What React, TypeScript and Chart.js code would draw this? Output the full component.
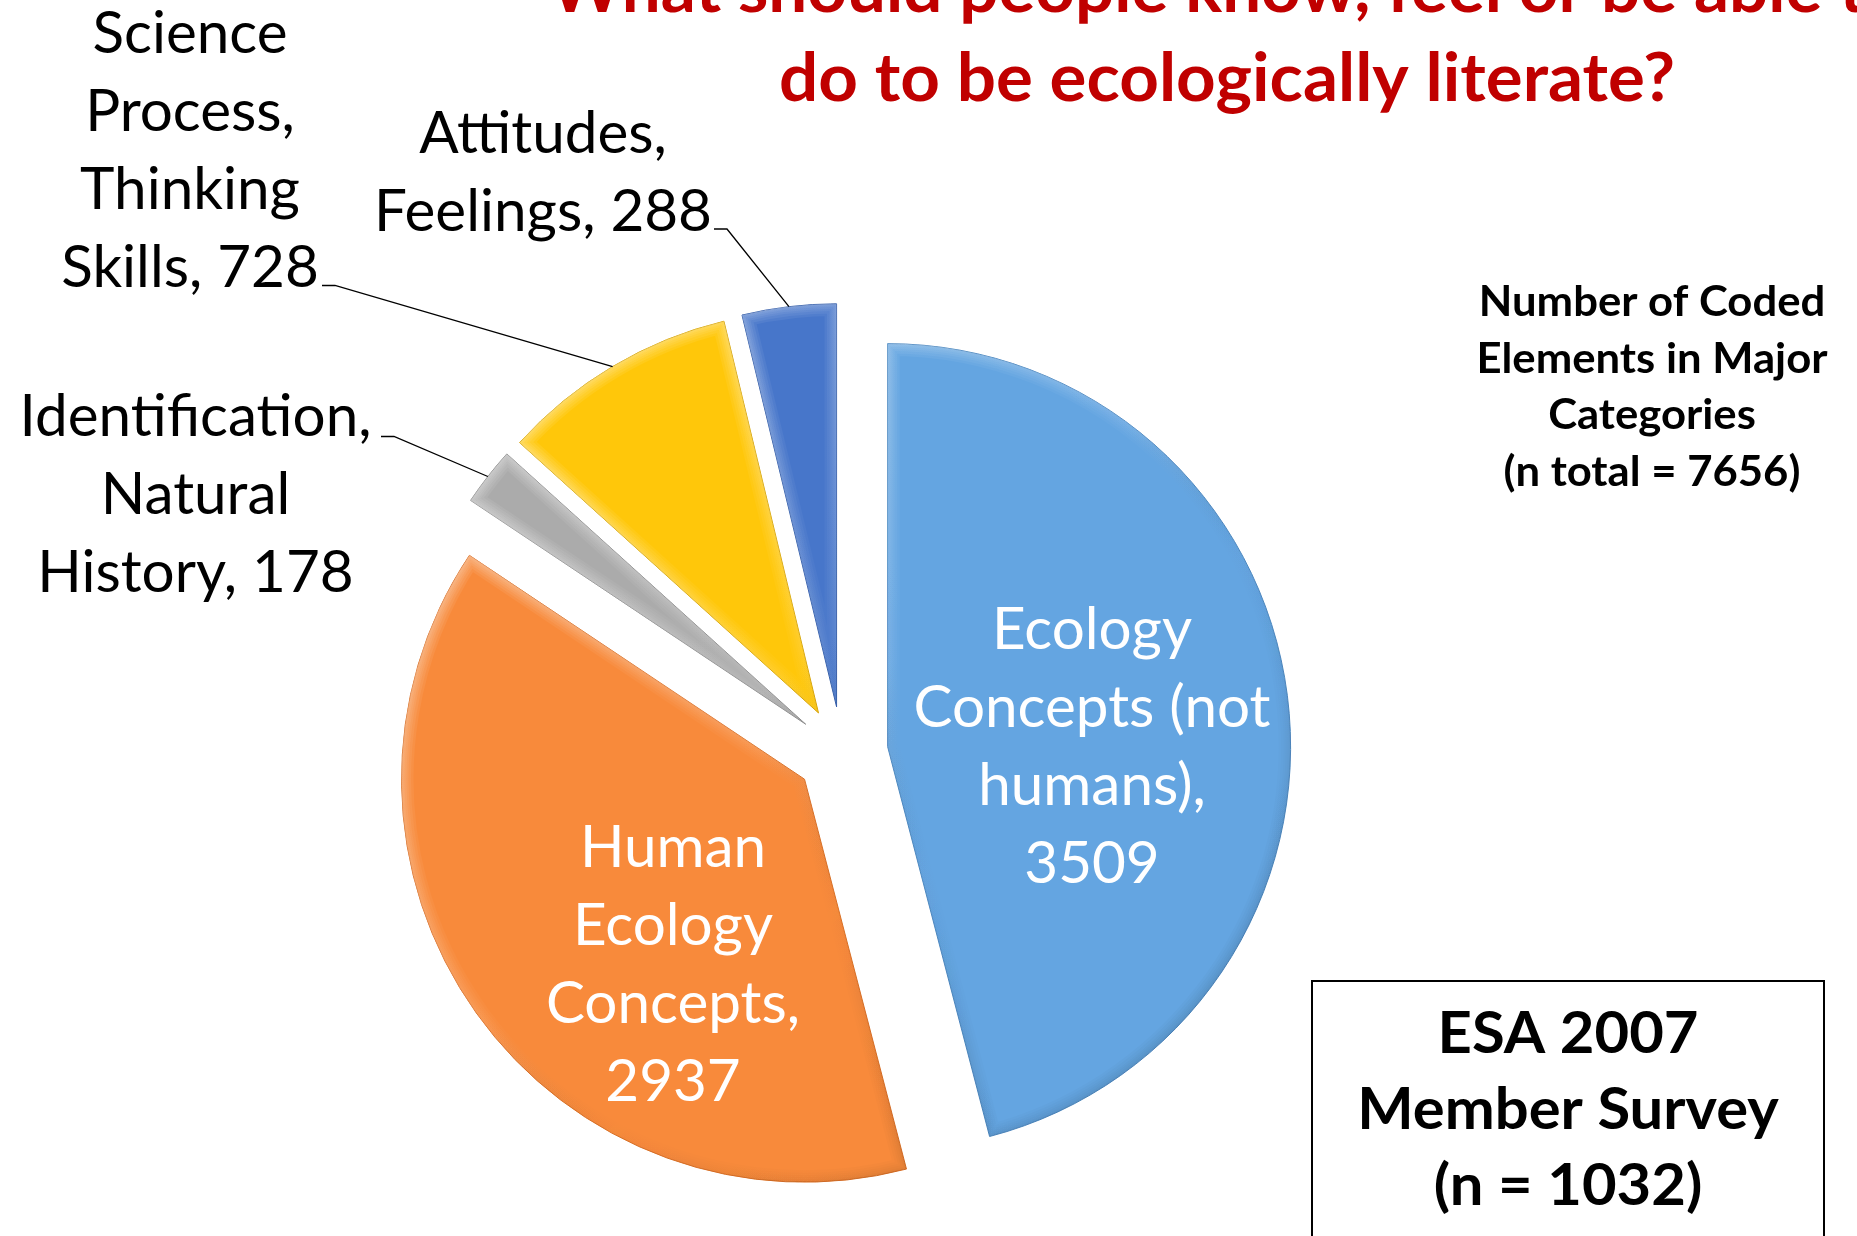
import React, { useEffect, useRef } from 'react';
import { Chart, registerables } from 'chart.js';

Chart.register(...registerables);

// ---- data ----
const categories = [
  'Ecology Concepts (not humans)',
  'Human Ecology Concepts',
  'Identification, Natural History',
  'Science Process, Thinking Skills',
  'Attitudes, Feelings',
];
const counts = [3509, 2937, 178, 728, 288];

// how each category name wraps in its data label
const labelLines = [
  ['Ecology', 'Concepts (not', 'humans),'],
  ['Human', 'Ecology', 'Concepts,'],
  ['Identification,', 'Natural', 'History,'],
  ['Science', 'Process,', 'Thinking', 'Skills,'],
  ['Attitudes,', 'Feelings,'],
];
const countOnOwnLine = [true, true, false, false, false];

const sliceColors = ['#64A5E1', '#F88A3B', '#ABABAB', '#FFC70A', '#4776CA'];
const sliceEdges = ['#4D88C0', '#D96F25', '#8C8C8C', '#D6A200', '#2F5AA8'];

const titleLines = ['What should people know, feel or be able to', 'do to be ecologically literate?'];
const noteLines = ['Number of Coded', 'Elements in Major', 'Categories', '(n total = 7656)'];
const surveyLines = ['ESA 2007', 'Member Survey', '(n = 1032)'];

// ---- layout ----
const W = 1857;
const H = 1236;
const CX = 842;
const CY = 752.5;
const R = 403;
const EXPLODE = 46;
const LINE = 78;
const FONT = "Lato, 'Open Sans', sans-serif";

type LabelPlace = { cx: number; y: number; color: string; leader?: [number, number] };
const labelPlaces: LabelPlace[] = [
  { cx: 1092, y: 649, color: '#ffffff' },
  { cx: 673, y: 867, color: '#ffffff' },
  { cx: 195.5, y: 436, color: '#000000', leader: [381, 436.5] },
  { cx: 190, y: 52.5, color: '#000000', leader: [322, 285.5] },
  { cx: 543, y: 152.5, color: '#000000', leader: [714, 229] },
];

function fullLabel(i: number): string[] {
  const lines = labelLines[i].slice();
  const v = String(counts[i]);
  if (countOnOwnLine[i]) lines.push(v);
  else lines[lines.length - 1] = lines[lines.length - 1] + ' ' + v;
  return lines;
}

function drawLine(ctx: CanvasRenderingContext2D, text: string, cx: number, y: number, sx: number) {
  ctx.save();
  ctx.translate(cx, y);
  ctx.scale(sx, 1);
  ctx.textAlign = 'center';
  ctx.textBaseline = 'alphabetic';
  ctx.fillText(text, 0, 0);
  ctx.restore();
}

function slicePath(ctx: CanvasRenderingContext2D, arc: any) {
  ctx.beginPath();
  ctx.moveTo(arc.x, arc.y);
  ctx.arc(arc.x, arc.y, arc.outerRadius, arc.startAngle, arc.endAngle);
  ctx.closePath();
}

// soft bevel on the rim of each slice, lit from the upper left
function drawBevel(ctx: CanvasRenderingContext2D, arc: any) {
  const { x, y, outerRadius: r } = arc;
  ctx.save();
  slicePath(ctx, arc);
  ctx.clip();
  const g = ctx.createLinearGradient(x - r, y - r, x + r, y + r);
  g.addColorStop(0, 'rgba(255,255,255,0.6)');
  g.addColorStop(0.45, 'rgba(255,255,255,0.15)');
  g.addColorStop(0.6, 'rgba(0,0,0,0.02)');
  g.addColorStop(1, 'rgba(0,0,0,0.2)');
  ctx.strokeStyle = g;
  ctx.lineJoin = 'miter';
  for (const w of [24, 19, 14, 10, 6, 3]) {
    ctx.globalAlpha = 0.16;
    ctx.lineWidth = w;
    slicePath(ctx, arc);
    ctx.stroke();
  }
  ctx.restore();
}

const explodedSlices = {
  id: 'explodedSlices',
  beforeDatasetDraw(chart: any, args: any) {
    const ctx: CanvasRenderingContext2D = chart.ctx;
    const meta = chart.getDatasetMeta(args.index);
    meta.data.forEach((arc: any) => {
      const mid = (arc.startAngle + arc.endAngle) / 2;
      ctx.save();
      ctx.translate(Math.cos(mid) * EXPLODE, Math.sin(mid) * EXPLODE);
      arc.draw(ctx);
      drawBevel(ctx, arc);
      ctx.restore();
    });
    return false;
  },
};

const annotations = {
  id: 'annotations',
  afterDraw(chart: any) {
    const ctx: CanvasRenderingContext2D = chart.ctx;
    const meta = chart.getDatasetMeta(0);

    // width calibration for the condensed look of the labels
    ctx.font = `57.5px ${FONT}`;
    const sxReg = 352 / ctx.measureText('Identification,').width;
    ctx.font = `bold 66.5px ${FONT}`;
    const sxBold = 896 / ctx.measureText(titleLines[1]).width;

    // title
    ctx.save();
    ctx.fillStyle = '#C00000';
    ctx.font = `bold 66.5px ${FONT}`;
    drawLine(ctx, titleLines[0], 1227, 12, sxBold);
    drawLine(ctx, titleLines[1], 1227, 101, sxBold);
    ctx.restore();

    // data labels and leader lines
    meta.data.forEach((arc: any, i: number) => {
      const place = labelPlaces[i];
      const lines = fullLabel(i);
      ctx.save();
      ctx.fillStyle = place.color;
      ctx.font = `57.5px ${FONT}`;
      lines.forEach((t, k) => drawLine(ctx, t, place.cx, place.y + k * LINE, sxReg));
      ctx.restore();
      if (place.leader) {
        const mid = (arc.startAngle + arc.endAngle) / 2;
        const ex = arc.x + Math.cos(mid) * (EXPLODE + arc.outerRadius);
        const ey = arc.y + Math.sin(mid) * (EXPLODE + arc.outerRadius);
        const [lx, ly] = place.leader;
        ctx.save();
        ctx.strokeStyle = '#000000';
        ctx.lineWidth = 1.3;
        ctx.beginPath();
        ctx.moveTo(lx, ly);
        ctx.lineTo(lx + 13, ly);
        ctx.lineTo(ex, ey);
        ctx.stroke();
        ctx.restore();
      }
    });

    // note on the right
    ctx.save();
    ctx.fillStyle = '#000000';
    ctx.font = `bold 42px ${FONT}`;
    noteLines.forEach((t, k) => drawLine(ctx, t, 1652, 316 + k * 56.5, sxBold));
    ctx.restore();

    // survey box
    ctx.save();
    ctx.strokeStyle = '#000000';
    ctx.lineWidth = 2;
    ctx.strokeRect(1312, 981, 512, 400);
    ctx.fillStyle = '#000000';
    ctx.font = `bold 57.5px ${FONT}`;
    surveyLines.forEach((t, k) => drawLine(ctx, t, 1568, 1053 + k * 76, sxBold));
    ctx.restore();
  },
};

export default function App() {
  const canvasRef = useRef<HTMLCanvasElement | null>(null);

  useEffect(() => {
    const canvas = canvasRef.current;
    if (!canvas) return;
    const chart = new Chart(canvas, {
      type: 'pie',
      data: {
        labels: categories,
        datasets: [
          {
            data: counts,
            backgroundColor: sliceColors,
            borderColor: sliceEdges,
            borderWidth: 1,
            radius: R,
            offset: 0,
            hoverOffset: 0,
          } as any,
        ],
      },
      options: {
        responsive: false,
        animation: false,
        events: [],
        rotation: 0,
        layout: { padding: { left: 0, right: W - 2 * CX, top: 2 * CY - H, bottom: 0 } },
        plugins: {
          legend: { display: false },
          tooltip: { enabled: false },
          title: { display: false },
        },
      },
      plugins: [explodedSlices, annotations],
    });
    const fonts = (document as any).fonts;
    if (fonts && fonts.ready) fonts.ready.then(() => chart.draw());
    return () => chart.destroy();
  }, []);

  return (
    <div
      style={{
        position: 'fixed',
        left: 0,
        top: 0,
        width: W,
        height: H,
        background: '#ffffff',
        overflow: 'hidden',
      }}
    >
      <canvas ref={canvasRef} width={W} height={H} style={{ display: 'block', width: W, height: H }} />
    </div>
  );
}
